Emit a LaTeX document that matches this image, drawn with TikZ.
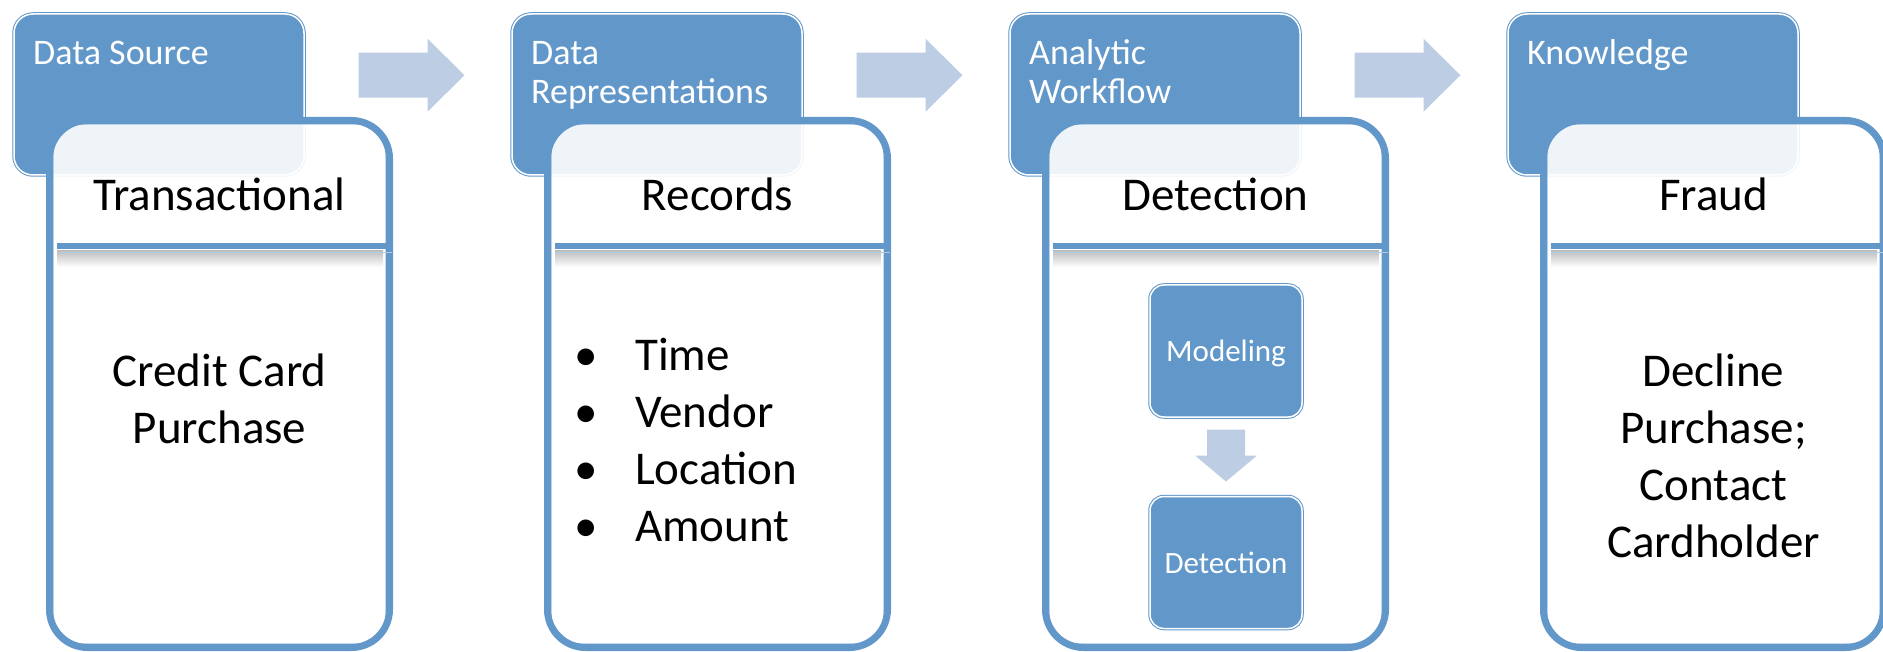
\documentclass[tikz,border=0pt]{standalone}
\usepackage{fontspec}
\setmainfont{Carlito}
\usetikzlibrary{positioning,calc}

\begin{document}
\begin{tikzpicture}[
    x=1pt, y=-1pt,
    steptab/.style={draw=stepblue, double=white, double distance=1.5pt, line width=1pt,
        fill=stepblue, rounded corners=19pt, inner sep=0pt,
        minimum width=290pt, minimum height=161pt},
    tablabel/.style={text=white, font=\fontsize{36}{39}\selectfont, align=left,
        inner sep=0pt, anchor=base west},
    stepframe/.style={draw=stepblue, line width=7pt, fill=white, fill opacity=0.9,
        rounded corners=38pt, minimum width=340pt, minimum height=527pt, inner sep=0pt},
    innerline/.style={draw=stepblue, line width=1.8pt, rounded corners=31pt},
    divider/.style={stepblue, line width=6pt},
    boxtitle/.style={font=\fontsize{47}{56.7}\selectfont, inner sep=0pt, anchor=base},
    boxbody/.style={font=\fontsize{47}{56.7}\selectfont, inner sep=0pt, align=center, anchor=base},
    listbody/.style={font=\fontsize{47}{56.7}\selectfont, inner sep=0pt, align=left, anchor=base west},
    substep/.style={draw=stepblue, double=white, double distance=1.5pt, line width=1pt,
        fill=stepblue, rounded corners=14pt, minimum width=152pt, minimum height=132pt,
        inner sep=0pt, text height=22pt, text depth=0pt,
        text=white, font=\fontsize{31}{37}\selectfont},
    blockarrow/.style={fill=arrowblue}
]
\definecolor{stepblue}{RGB}{98,151,202}
\definecolor{arrowblue}{RGB}{189,205,228}

\useasboundingbox (0,0) rectangle (1883,652);

% the four steps (base of a multi-line node = its last line)
\foreach \i/\tabtext/\ty/\heading in {1/Data Source/65/Transactional,
        2/{Data\\Representations}/104/Records,
        3/{Analytic\\Workflow}/104/Detection,
        4/Knowledge/65/Fraud} {
    \pgfmathsetmacro\ox{(\i-1)*498}
    \node[steptab] (tab\i) at (\ox+159,94.5) {};
    \node[tablabel] (tablabel\i) at (\ox+33,\ty) {\tabtext};
    \node[stepframe] (box\i) at (\ox+219.5,384) {};
    \draw[innerline] ($(box\i.north west)+(6.5,6.5)$) rectangle ($(box\i.south east)+(-6.5,-6.5)$);
    \shade[top color=black!25, bottom color=white] (\ox+57,251) rectangle (\ox+383,267);
    \draw[stepblue!50, line width=1.5pt] (\ox+57,252.5) -- (\ox+392,252.5);
    \draw[divider] (\ox+57,246) -- (\ox+393,246);
    \node[boxtitle] (title\i) at (box\i.center |- 0,211) {\heading};
}

% arrows between the steps
\foreach \i in {1,2,3} {
    \fill[blockarrow] ($(tab\i.north east)+(54,39.25)$)
        -- ++(69,0) -- ++(0,-14) -- ++(37,36.5) -- ++(-37,36.5)
        -- ++(0,-14) -- ++(-69,0) -- cycle;
}

\node[boxbody] (purchase) at (box1.center |- 0,443) {Credit Card\\Purchase};

\node[listbody] (fields) at (574,541) {%
    \makebox[61pt][l]{\textbullet}Time\\
    \makebox[61pt][l]{\textbullet}Vendor\\
    \makebox[61pt][l]{\textbullet}Location\\
    \makebox[61pt][l]{\textbullet}Amount};

\node[substep] (modeling) at (1226,351) {Modeling};
\node[substep] (detection) at (1226,562.5) {Detection};
\fill[blockarrow] ($(modeling.south)+(-19,12)$)
    -- ++(38,0) -- ++(0,26) -- ++(12,0) -- ++(-31,26)
    -- ++(-31,-26) -- ++(12,0) -- cycle;

\node[boxbody] (response) at (box4.center |- 0,557) {Decline\\Purchase;\\Contact\\Cardholder};
\end{tikzpicture}
\end{document}
